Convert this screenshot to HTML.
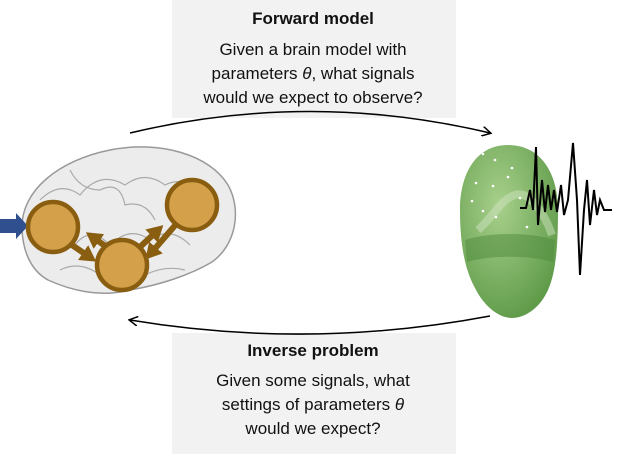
<!DOCTYPE html>
<html><head><style>body{margin:0;background:#fff}svg{display:block}text{font-family:"Liberation Sans",Calibri,sans-serif;}</style></head><body>
<svg width="617" height="454" viewBox="0 0 617 454">
<defs>
<marker id="ah" markerWidth="10" markerHeight="10" refX="8" refY="5" orient="auto" markerUnits="userSpaceOnUse"><path d="M0,0 L9,5 L0,10" fill="none" stroke="#000" stroke-width="1.5"/></marker>
<radialGradient id="hg" cx="0.4" cy="0.35" r="0.7"><stop offset="0" stop-color="#a8d08c"/><stop offset="1" stop-color="#5e9a48"/></radialGradient>
<marker id="bh" markerWidth="18" markerHeight="18" refX="6" refY="9" orient="auto" markerUnits="userSpaceOnUse"><path d="M0,0 L16,9 L0,18 z" fill="#8a5e10"/></marker>
</defs>
<rect x="172" y="0" width="284" height="118" fill="#f2f2f2"/>
<rect x="172" y="333" width="284" height="121" fill="#f2f2f2"/>
<g font-size="17" fill="#111" text-anchor="middle">
<text x="313" y="24" font-weight="bold">Forward model</text>
<text x="313" y="55">Given a brain model with</text>
<text x="313" y="79">parameters <tspan font-style="italic">θ</tspan>, what signals</text>
<text x="313" y="103">would we expect to observe?</text>
<text x="313" y="356" font-weight="bold">Inverse problem</text>
<text x="313" y="386">Given some signals, what</text>
<text x="313" y="410">settings of parameters <tspan font-style="italic">θ</tspan></text>
<text x="313" y="434">would we expect?</text>
</g>
<path d="M130,133 Q310,90 490,133" fill="none" stroke="#000" stroke-width="1.5" marker-end="url(#ah)"/>
<path d="M490,316 Q310,350 130,320" fill="none" stroke="#000" stroke-width="1.5" marker-end="url(#ah)"/>
<!-- brain -->
<path d="M22,230 C20,190 60,160 110,150 C160,140 210,155 228,185 C242,210 236,245 212,262 C190,275 160,285 130,290 C100,298 70,290 48,280 C30,270 23,250 22,230 z" fill="#ececec" stroke="#999" stroke-width="1.5"/>
<g fill="none" stroke="#aaa" stroke-width="1.2">
<path d="M40,200 q20,-20 40,-5 q20,-25 45,-10 q20,-15 40,0 q20,-10 35,10"/>
<path d="M35,240 q25,-15 40,5 q15,-20 35,0 q20,-20 40,-5 q20,-15 40,5"/>
<path d="M60,270 q20,-10 40,5 q25,-10 45,0 q20,-10 40,-5"/>
<path d="M70,170 q10,20 30,20 q20,-10 25,15 q20,-5 30,15"/>
</g>
<path d="M0,219 L16,219 L16,213 L28,226 L16,239 L16,233 L0,233 z" fill="#2f4f8f"/>
<g stroke="#8a5e10" stroke-width="6" fill="none">
<line x1="72" y1="245" x2="88" y2="256" marker-end="url(#bh)"/>
<line x1="108" y1="248" x2="94" y2="238" marker-end="url(#bh)"/>
<line x1="140" y1="247" x2="156" y2="232" marker-end="url(#bh)"/>
<line x1="178" y1="222" x2="152" y2="252" marker-end="url(#bh)"/>
</g>
<g fill="#d4a04a" stroke="#8a5e10" stroke-width="4.5">
<circle cx="53" cy="227" r="25"/>
<circle cx="122" cy="265" r="25"/>
<circle cx="192" cy="205" r="25"/>
</g>
<!-- head -->
<path d="M508,145 C475,145 460,175 460,210 C460,245 465,270 475,288 C485,308 500,318 512,318 C525,318 540,308 548,290 C556,272 558,245 558,210 C558,172 540,145 508,145 z" fill="url(#hg)"/>
<path d="M465,240 C490,232 530,232 555,240 L553,262 C530,255 490,255 467,262 z" fill="#4e8a3c" opacity="0.5"/>
<path d="M478,230 C495,215 500,200 515,195 C530,190 545,215 552,235" fill="none" stroke="#cfe3bf" stroke-width="8" opacity="0.5"/>
<g fill="#fff"><circle cx="483" cy="154" r="1.3"/><circle cx="495" cy="160" r="1.3"/><circle cx="512" cy="168" r="1.3"/><circle cx="476" cy="183" r="1.3"/><circle cx="493" cy="186" r="1.3"/><circle cx="472" cy="201" r="1.3"/><circle cx="496" cy="217" r="1.3"/><circle cx="483" cy="211" r="1.3"/><circle cx="520" cy="198" r="1.3"/><circle cx="527" cy="227" r="1.3"/><circle cx="508" cy="177" r="1.3"/></g>
<path d="M520,208 L526,208 L530,190 L533,210 L536,147 L538,225 L542,180 L545,212 L548,185 L551,210 L554,190 L557,212 L561,185 L564,215 L568,200 L573,143 L577,200 L580,275 L584,210 L587,180 L590,225 L594,190 L597,215 L600,200 L604,210 L612,210" fill="none" stroke="#000" stroke-width="2"/>
</svg>
</body></html>
